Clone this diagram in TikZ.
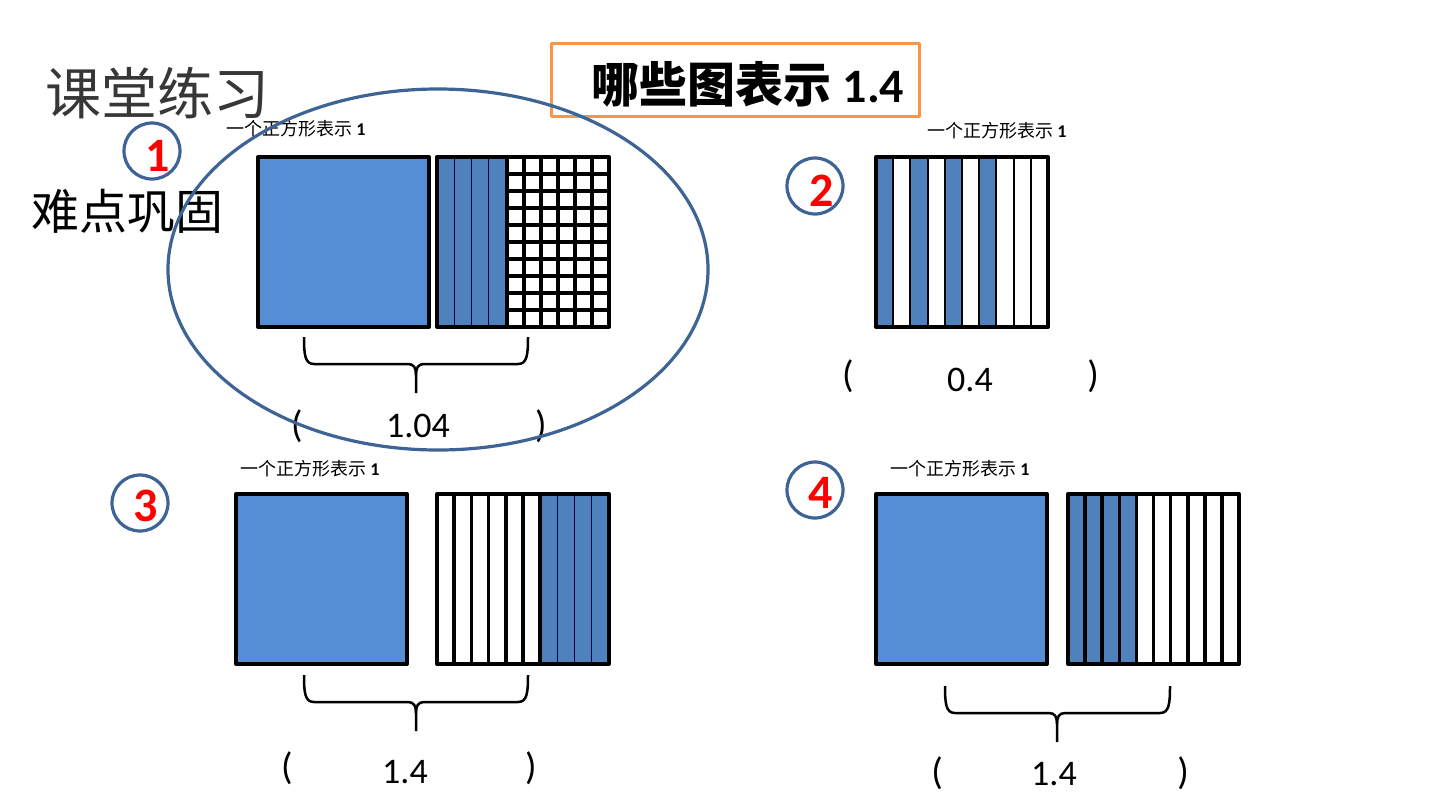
\documentclass[tikz,border=0pt]{standalone}
\usepackage{fontspec}
\setmainfont{Carlito}
\newfontfamily\cjk{Noto Sans CJK SC}
\definecolor{sqblue}{RGB}{85,142,213}
\definecolor{stripblue}{RGB}{79,129,189}
\definecolor{ringblue}{RGB}{62,100,150}
\definecolor{orangeb}{RGB}{247,150,70}
\definecolor{headgray}{RGB}{55,55,55}
\newcommand{\mybrace}[4]{%
\draw[bracestyle] (#1,#3) .. controls (#1,#3+18) and (#1+1,#3+27) .. (#1+10,#3+27) -- (#4-8,#3+27) .. controls (#4-2,#3+27) and (#4,#3+31) .. (#4,#3+38) -- (#4,#3+56);
\draw[bracestyle] (#4,#3+38) .. controls (#4,#3+31) and (#4+2,#3+27) .. (#4+8,#3+27) -- (#2-10,#3+27) .. controls (#2-1,#3+27) and (#2,#3+18) .. (#2,#3);
}
\begin{document}
\begin{tikzpicture}[x=0.5pt,y=-0.5pt,line join=round,
  sqframe/.style={draw=black,line width=2pt},
  gridline/.style={draw=black,line width=2.3pt},
  thickstrip/.style={draw=black,line width=1.8pt},
  thinline/.style={draw=black!75!blue,line width=0.5pt},
  midline/.style={draw=black,line width=1pt},
  ring/.style={draw=ringblue,line width=1.6pt},
  bracestyle/.style={draw=black,line width=1.25pt},
  lbl/.style={font=\cjk\fontsize{9}{10}\selectfont,inner sep=0pt},
  numtxt/.style={font=\fontsize{18}{20}\selectfont,inner sep=0pt},
  paren/.style={font=\fontsize{19}{20}\selectfont,inner sep=0pt},
  cnum/.style={text=red,font=\bfseries\fontsize{24}{26}\selectfont,inner sep=0pt}]
\useasboundingbox[fill=white] (0,0) rectangle (1440,810);

% headings
\node[font=\cjk\fontsize{28}{30}\selectfont,text=headgray,inner sep=0pt] (head1) at (157,93) {课堂练习};
\node[font=\cjk\fontsize{24}{26}\selectfont,text=black,inner sep=0pt] (head2) at (128,211) {难点巩固};

% title
\draw[draw=orangeb,line width=1.5pt] (551,43) rectangle (919,116);
\node[inner sep=0pt,font=\fontsize{24}{26}\selectfont] (title) at (748,84) {{\cjk\bfseries 哪些图表示} {\bfseries 1.4}};

% labels
\node[lbl] (l1) at (296,129) {一个正方形表示 {\rmfamily\bfseries 1}};
\node[lbl] (l2) at (997,131) {一个正方形表示 {\rmfamily\bfseries 1}};
\node[lbl] (l3) at (310,469) {一个正方形表示 {\rmfamily\bfseries 1}};
\node[lbl] (l4) at (960,469) {一个正方形表示 {\rmfamily\bfseries 1}};

% ---------- figure 1 ----------
\fill[sqblue] (258,157) rectangle (429,327);
\draw[sqframe] (258,157) rectangle (429,327);
\fill[stripblue] (437,157) rectangle (506.8,327);
\foreach \x in {454.2,471.4,488.6,506.8} \draw[thinline] (\x,157) -- (\x,327);
\foreach \i in {1,...,5} \draw[gridline] ({506.8+\i*17.033},157) -- ({506.8+\i*17.033},327);
\draw[gridline] (506.8,157) -- (506.8,327);
\foreach \j in {1,...,9} \draw[gridline] (506.8,{157+\j*17}) -- (609,{157+\j*17});
\draw[sqframe] (437,157) rectangle (609,327);
\mybrace{304}{528}{337}{416}

% ---------- figure 2 ----------
\foreach \k in {0,2,4,6} \fill[stripblue] ({876+\k*17.2},157) rectangle ({876+(\k+1)*17.2},327);
\foreach \k in {1,...,9} \draw[midline] ({876+\k*17.2},157) -- ({876+\k*17.2},327);
\draw[sqframe] (876,157) rectangle (1048,327);

% ---------- figure 3 ----------
\fill[sqblue] (236,494) rectangle (407,664);
\draw[sqframe] (236,494) rectangle (407,664);
\fill[stripblue] (540.2,494) rectangle (609,664);
\foreach \k in {1,...,6} \draw[thickstrip] ({437+\k*17.2},494) -- ({437+\k*17.2},664);
\foreach \k in {7,8,9} \draw[thinline] ({437+\k*17.2},494) -- ({437+\k*17.2},664);
\draw[sqframe] (437,494) rectangle (609,664);
\mybrace{304}{528}{675}{416}

% ---------- figure 4 ----------
\fill[sqblue] (876,494) rectangle (1047,664);
\draw[sqframe] (876,494) rectangle (1047,664);
\fill[stripblue] (1068,494) rectangle (1136.4,664);
\foreach \k in {1,...,9} \draw[thickstrip] ({1068+\k*17.1},494) -- ({1068+\k*17.1},664);
\draw[sqframe] (1068,494) rectangle (1239,664);
\mybrace{945}{1170}{686}{1057}

% answers
\node[paren] (p1l) at (297,426) {(};
\node[numtxt] (a1) at (418,426) {1.04};
\node[paren] (p1r) at (541,426) {)};
\node[paren] (p2l) at (848,376) {(};
\node[numtxt] (a2) at (970,380) {0.4};
\node[paren] (p2r) at (1093,376) {)};
\node[paren] (p3l) at (287,768) {(};
\node[numtxt] (a3) at (405,772) {1.4};
\node[paren] (p3r) at (531,768) {)};
\node[paren] (p4l) at (937,773) {(};
\node[numtxt] (a4) at (1054,774) {1.4};
\node[paren] (p4r) at (1183,773) {)};

% numbered circles
\draw[ring] (152,151) circle [radius=28];
\node[cnum] (n1) at (158,156) {1};
\draw[ring] (815,186) circle [radius=28];
\node[cnum] (n2) at (822,191) {2};
\draw[ring] (140,503) circle [radius=28];
\node[cnum] (n3) at (146,506) {3};
\draw[ring] (815,490) circle [radius=28];
\node[cnum] (n4) at (821,493) {4};

% big ellipse
\draw[ring] (438,269.5) ellipse [x radius=270, y radius=180.5];
\end{tikzpicture}
\end{document}
